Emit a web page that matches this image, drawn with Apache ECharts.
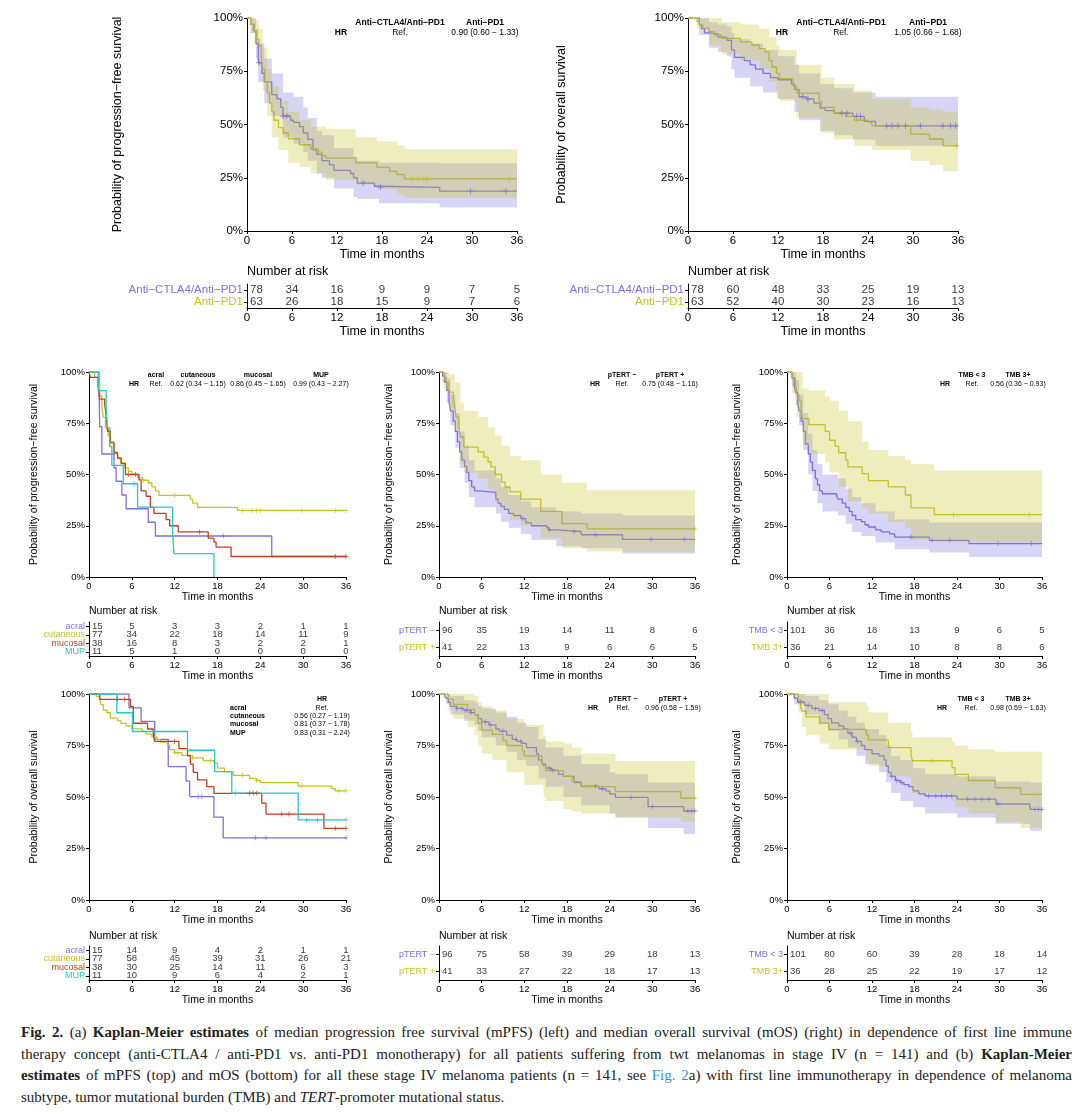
<!DOCTYPE html>
<html><head><meta charset="utf-8">
<script src="https://cdn.jsdelivr.net/npm/echarts@6/dist/echarts.min.js"></script>
<style>
html,body{margin:0;padding:0;background:#fff;width:1080px;height:1112px;overflow:hidden}
#chart{position:absolute;left:0;top:0;width:1080px;height:1015px}
#cap{position:absolute;left:21px;top:1022px;width:1051px;font-family:'Liberation Serif','Times New Roman',serif;font-size:15px;line-height:21.7px;color:#222}
#cap div{text-align:justify;text-align-last:justify;white-space:nowrap}
#cap div.last{text-align-last:left}
</style></head><body>
<div id="chart"></div>
<div id="cap">
<div><b>Fig. 2.</b> (a) <b>Kaplan-Meier estimates</b> of median progression free survival (mPFS) (left) and median overall survival (mOS) (right) in dependence of first line immune</div>
<div>therapy concept (anti-CTLA4 / anti-PD1 vs. anti-PD1 monotherapy) for all patients suffering from twt melanomas in stage IV (n = 141) and (b) <b>Kaplan-Meier</b></div>
<div><b>estimates</b> of mPFS (top) and mOS (bottom) for all these stage IV melanoma patients (n = 141, see <span style="color:#3d8fd0">Fig. 2</span>a) with first line immunotherapy in dependence of melanoma</div>
<div class="last">subtype, tumor mutational burden (TMB) and <i>TERT</i>-promoter mutational status.</div>
</div>
<script>
// ---------------- DATA ----------------
const months = [0, 6, 12, 18, 24, 30, 36];

// (a) PFS by therapy
const pfsCombo = [[0,100],[0.5,97],[0.9,94],[1.2,88],[1.5,79],[2.0,74],[2.3,70],[3.3,64],[4.0,62],[4.5,58],[4.8,54],[5.8,52],[6.2,51],[7.0,49],[7.5,46],[8.1,43],[8.8,38],[9.3,36],[10.0,33],[11.0,31],[11.6,28.5],[13.8,27],[14.2,25],[14.7,22.5],[17.0,21],[17.6,20.5],[25.7,18.7],[36,18.7]];
const pfsComboCens = [1.6,4.8,5.3,15.5,17.8,29.8,34.5];
const pfsComboBand = [[0,100,100],[0.5,93,100],[1.2,81,95],[1.5,70,88],[2.3,60,81],[3.3,54,74],[4.8,44,65],[6.2,41,63],[7.5,37,58],[8.1,33,53],[9.3,27,47],[10,25,45],[11.6,20,39],[14.2,16,35],[14.7,15,33],[17.6,13,32],[25.7,11,31.8],[36,11,31.8]];
const pfsPd1 = [[0,100],[0.5,97],[1.0,94],[1.3,90],[1.6,87],[1.9,82],[2.1,76],[2.4,70],[2.7,65],[3.0,60],[3.3,56],[3.6,52],[4.2,48.5],[4.8,46],[5.5,43.3],[7.0,40.5],[8.5,38.5],[9.5,37],[10.0,35.5],[10.5,34.2],[14.5,32],[17.3,30],[19.0,28],[20.0,26.5],[21.0,24.5],[36,24.5]];
const pfsPd1Cens = [22,22.8,23.5,24,35];
const pfsPd1Band = [[0,100,100],[0.5,93,100],[1.0,88,99],[1.6,79,95],[2.1,66,86],[2.7,54,76],[3.3,44,68],[4.2,38,61],[5.5,32,56],[7.0,30,52],[8.5,27,49],[10.5,24,48],[14.5,22,44],[17.3,20,42],[20.0,17,40],[21.0,15.5,38.4],[36,15.5,38.4]];
const riskPfsTherapy = { combo:[78,34,16,9,9,7,5], pd1:[63,26,18,15,9,7,6] };

// (a) OS by therapy
const osCombo = [[0,100],[1.5,97],[1.8,95],[2.2,93],[2.8,92.5],[4.0,91],[5.2,89.5],[5.8,85],[6.2,81.5],[7.5,80],[8.3,78],[9.0,76],[10.0,74],[11.0,72],[12.0,71],[13.8,69],[14.2,66.5],[14.8,63],[15.8,62],[16.8,60],[17.6,57.7],[18.3,56.5],[19.5,55.3],[22.0,53.8],[23.5,51.5],[25.0,49.4],[36,49.4]];
const osComboCens = [15.3,16,20.5,21.2,22.5,23,26.5,27.2,28,29,31,34,35,35.7];
const osComboBand = [[0,100,100],[1.5,92,100],[2.8,86,98],[4.0,84,97],[5.2,82,96],[5.8,76,93],[6.2,72,90],[8.3,68,88],[10.0,65,85],[12.0,62,82],[14.2,56,78],[14.8,52,74],[17.6,47,69],[19.5,45,67],[22.0,43,65],[25.0,40,63],[36,38,63]];
const osPd1 = [[0,100],[1.2,98.4],[1.5,96.8],[2.0,95.2],[2.8,93.6],[3.5,92],[4.5,90.4],[7.0,88.8],[8.5,87.2],[9.5,85.6],[10.3,84],[10.8,80],[11.2,77],[11.8,74],[12.2,71.5],[14.0,68],[14.5,64.7],[17.5,61],[17.8,58],[19.5,55.6],[21.0,53.8],[22.2,52],[24.0,51],[24.5,49.4],[29.7,45.5],[32.2,43.2],[34.0,40],[36,40]];
const osPd1Cens = [22.5,35.8];
const osPd1Band = [[0,100,100],[1.2,95,100],[2.8,87,100],[4.5,83,98],[7.0,80,97],[9.5,76,95],[10.8,70,91],[11.8,63,87],[12.2,61,85],[14.5,53,78],[17.8,46,72],[19.5,43,69],[22.2,40,66],[24.5,38,62],[29.7,33,58],[32.2,31,57],[34.0,28,56],[36,28,56]];
const riskOsTherapy = { combo:[78,60,48,33,25,19,13], pd1:[63,52,40,30,23,16,13] };

// (b) PFS by subtype
const pfsAcral = [[0,100],[1.4,93.3],[1.5,73.3],[1.8,60],[3.5,53.3],[3.8,46.7],[4.6,40],[5.2,33.3],[8.3,26.7],[9.3,20],[25.6,10],[36,10]];
const pfsAcralCens = [18.8];
const pfsCut = [[0,100],[0.8,97.4],[1.2,93.5],[1.5,88.3],[1.8,83.1],[2.0,77.9],[2.3,72.7],[2.7,68.8],[3.0,64.9],[3.5,61],[4.0,58.4],[4.5,55.8],[5.0,53.2],[5.5,51.5],[6.0,50.2],[6.8,48.5],[7.5,47.2],[8.3,45.9],[8.8,44],[9.3,42],[9.8,39.8],[14.2,38],[14.5,36],[15.2,34],[20.8,32.5],[36,32.5]];
const pfsCutCens = [7.6,8.5,12,21.5,22.8,23.5,24,29.8,34.5,36];
const pfsMuc = [[0,100],[0.2,97.4],[1.3,92.1],[1.5,86.8],[2.2,84.2],[2.4,78.9],[2.6,71.1],[3.0,65.8],[3.5,60.5],[4.0,57.9],[4.5,55.3],[5.1,50],[7.0,47.4],[7.3,42],[8.0,39.4],[8.6,34],[9.1,31],[10.8,28],[11.3,25],[12.5,22],[16.7,19],[17.5,17],[17.8,14.6],[19.9,10],[36,10]];
const pfsMucCens = [5.5,6.5,15.5,34.5,36];
const pfsMup = [[0,100],[1.3,90.9],[2.4,81.8],[2.6,72.7],[2.9,63.6],[3.2,54.5],[4.8,45.5],[6.8,34.1],[11.7,22.7],[11.9,11.4],[17.5,0]];
const pfsMupCens = [6.3];
const riskPfsSub = { acral:[15,5,3,3,2,1,1], cutaneous:[77,34,22,18,14,11,9], mucosal:[38,16,8,3,2,2,1], MUP:[11,5,1,0,0,0,0] };

// (b) PFS by pTERT
const pfsTneg = [[0,100],[0.5,98],[0.8,95],[1.1,91],[1.4,86],[1.6,81],[2.0,76],[2.3,71],[2.6,66],[2.9,61],[3.2,57],[3.6,54],[3.9,51],[4.2,47],[4.6,44],[5.0,42],[5.6,41.3],[8.0,38],[8.3,36],[8.7,34.5],[9.2,33],[9.8,31],[10.5,30],[11.5,28.5],[12.2,26.5],[13.0,25],[15.2,24],[15.5,23],[16.5,22.2],[20.0,20.6],[25.8,18.4],[36,18.4]];
const pfsTnegCens = [11.8,15.5,19,22,29.8,34.5];
const pfsTnegBand = [[0,100,100],[0.5,95,100],[1.1,85,97],[1.6,74,89],[2.3,63,80],[2.9,53,71],[3.6,46,64],[4.2,39,57],[5.0,34,52],[8.0,31,48],[8.7,27,44],[9.8,24,40],[11.5,21,37],[13.0,18,34],[16.5,15,32],[20.0,14,31],[25.8,11.5,30],[36,11.5,30]];
const pfsTpos = [[0,100],[0.7,97.6],[1.0,95.1],[1.4,90.2],[2.0,87.8],[2.2,82.9],[2.4,78],[2.8,73.2],[3.0,68.3],[3.5,63.4],[5.5,61],[6.3,58.5],[6.9,56.1],[7.3,53.7],[7.9,50],[8.8,46.3],[9.3,43.9],[10.0,41.5],[11.5,38],[14.3,32],[17.3,26],[20.8,23.5],[36,23.5]];
const pfsTposCens = [23,36];
const pfsTposBand = [[0,100,100],[0.7,92,100],[1.4,82,99],[2.2,72,95],[3.0,55,85],[3.5,51,81],[5.5,48,78],[6.9,43,73],[7.9,36,69],[8.8,33,64],[10.0,28,59],[11.5,25,57],[14.3,19,50],[17.3,14,46],[20.8,12.5,42.3],[36,12.5,42.3]];
const riskPfsTert = { neg:[96,35,19,14,11,8,6], pos:[41,22,13,9,6,6,5] };

// (b) PFS by TMB
const pfsLow = [[0,100],[0.7,97],[1.0,94],[1.2,90],[1.5,85],[1.7,81],[2.0,76],[2.3,71],[2.6,65],[3.0,60],[3.3,56],[3.6,52],[4.0,48],[4.3,45],[4.6,42],[5.0,40.6],[7.0,39.5],[7.2,38],[7.8,36],[8.3,34],[8.8,32],[9.2,30],[9.7,28],[10.5,27],[11.0,25.5],[11.5,24.4],[12.5,23],[13.3,22],[14.5,21],[15.2,19.5],[20.1,17.9],[25.7,16.3],[36,16.3]];
const pfsLowCens = [17.5,20.5,23,29.8,34.5];
const pfsLowBand = [[0,100,100],[0.7,93,100],[1.2,84,96],[1.7,74,89],[2.3,62,80],[3.0,50,70],[3.6,42,62],[4.3,36,55],[5.0,32,50],[7.2,30,48],[8.3,26,43],[9.2,22,39],[10.5,20,36],[12.5,17,32],[15.2,13.5,28],[20.1,12,26.6],[25.7,9.8,26.6],[36,9.8,26.6]];
const pfsHigh = [[0,100],[0.7,97.2],[1.2,94.4],[1.4,88.9],[1.7,86.1],[2.0,80.6],[2.2,77.3],[3.1,74.3],[5.4,71],[6.0,66.7],[6.8,63.7],[7.3,60.6],[8.3,57],[8.6,53.7],[10.6,50.4],[11.5,47],[14.3,44],[16.7,40],[17.5,33.7],[20.8,30.4],[36,30.4]];
const pfsHighCens = [23.5,34.2];
const pfsHighBand = [[0,100,100],[0.7,90,100],[1.4,78,100],[2.2,64,92],[3.1,60,91],[5.4,56,88],[6.0,51,86],[7.3,44,81],[8.6,37,76],[10.6,34,66],[11.5,31,62],[14.3,27,59],[16.7,24,57],[17.5,18,55],[20.8,17,52],[36,17,52]];
const riskPfsTmb = { low:[101,36,18,13,9,6,5], high:[36,21,14,10,8,8,6] };

// (b) OS by subtype
const osAcral = [[0,100],[5.6,93.3],[7.3,86.7],[9.2,78],[11.1,64.7],[13.6,57.7],[14.1,50.2],[17.5,40.2],[18.8,30.2],[36,30.2]];
const osAcralCens = [15.3,15.8,23.3,24.8,36];
const osCut = [[0,100],[1.0,98.7],[1.5,97.4],[1.7,94.8],[2.0,92.2],[2.5,90.9],[3.0,88.3],[4.0,87],[4.5,85.7],[5.2,84.4],[6.0,83.1],[7.5,81.8],[8.0,80.5],[8.8,79.2],[9.5,77.9],[10.0,76.6],[11.0,75.3],[11.3,73],[12.0,71.5],[13.0,70.2],[14.5,69],[16.0,67.7],[17.5,66.5],[18.0,64],[19.0,62.3],[20.2,60.5],[22.5,59],[23.5,58],[24.0,57],[29.3,55.3],[34.0,54],[34.5,53],[36,53]];
const osCutCens = [12.0,12.5,14.5,17.0,21.5,23.5,29.8,35.0,36];
const osMuc = [[0,100],[1.5,97.4],[5.8,94],[6.2,85.8],[8.2,83],[9.0,80],[9.2,77],[12.6,73.5],[13.8,70],[14.2,66],[14.6,62],[15.2,58.3],[16.5,55],[17.5,51.8],[24.2,47],[24.8,41.7],[32.9,34.8],[36,34.8]];
const osMucCens = [4.0,5.0,12.0,22.5,23.0,23.5,27.0,28.0,34.5,36];
const osMup = [[0,100],[3.9,90.9],[6.1,81.8],[13.8,72.7],[17.6,62.3],[20.0,51.9],[29.3,38.9],[36,38.9]];
const osMupCens = [20.5,30.5,32,36];
const riskOsSub = { acral:[15,14,9,4,2,1,1], cutaneous:[77,58,45,39,31,26,21], mucosal:[38,30,25,14,11,6,3], MUP:[11,10,9,6,4,2,1] };

// (b) OS by pTERT
const osTneg = [[0,100],[0.8,99],[1.0,98],[1.3,96],[1.6,94],[2.5,93],[3.5,92],[4.5,91],[5.0,90],[5.5,88],[6.0,86.5],[7.0,85],[8.0,83],[8.5,82],[9.5,80],[10.3,78],[11.0,77],[11.7,76],[12.3,74],[13.7,71],[14.0,68],[14.5,66],[15.0,64],[15.8,63],[16.8,61],[17.5,60],[19.0,57],[20.0,55.3],[22.5,54],[23.5,53],[24.0,51.5],[24.8,49.8],[29.4,45.3],[34.4,43.2],[36,43.2]];
const osTnegCens = [2.5,3.2,3.8,4.5,6.5,7.2,9,10.8,11.5,15.5,16,22,23,27,30,35,35.5,36];
const osTnegBand = [[0,100,100],[1.0,95,100],[1.6,90,99],[3.5,87,97],[5.0,85,96],[5.5,82,94],[6.0,79,93],[8.0,75,91],[9.5,72,89],[11.0,68,86],[12.3,65,84],[14.0,59,78],[15.0,55,74],[17.5,50,70],[20.0,46,66],[24.0,42,62],[24.8,40,61],[29.4,35,57],[34.4,32,57],[36,32,57]];
const osTpos = [[0,100],[1.3,97.5],[2.0,95],[4.0,92.5],[5.0,90],[5.5,85.8],[6.0,82.5],[7.5,80.4],[9.0,77.5],[9.5,75],[11.7,72.5],[12.0,70],[14.5,67.5],[14.7,65],[15.0,62.8],[17.5,60],[18.7,57.5],[20.0,55],[24.8,52.6],[34.0,49.4],[36,49.4]];
const osTposCens = [21.5,36];
const osTposBand = [[0,100,100],[1.3,92,100],[2.0,88,100],[4.0,84,100],[5.0,80,99],[5.5,75,96],[6.0,71,94],[7.5,68,92],[9.5,62,88],[12.0,56,85],[14.7,50,80],[15.0,48,77],[17.5,44,76],[18.7,43,74],[20.0,42,71],[24.8,40,67.5],[34.0,38,67.5],[36,38,67.5]];
const riskOsTert = { neg:[96,75,58,39,29,18,13], pos:[41,33,27,22,18,17,13] };

// (b) OS by TMB
const osLow = [[0,100],[1.0,98],[1.5,96],[2.5,94.5],[3.5,93],[4.5,92],[5.3,90],[5.8,88],[6.3,86],[7.3,84.5],[8.0,83],[8.6,81],[9.2,79],[9.8,77],[10.5,75],[11.0,73],[12.0,71],[13.0,70],[13.7,68],[14.0,65],[14.3,62],[14.7,60],[15.3,58],[16.0,57],[16.5,56],[17.2,55],[17.8,53],[18.6,51.5],[19.5,50.5],[24.0,49],[29.5,46.6],[34.3,44],[36,44]];
const osLowCens = [2,3,4,5,9,10,14.8,15.5,16.2,20,21,21.8,22.5,23.2,25.5,26.5,27.5,28.5,29.8,35,35.5,36];
const osLowBand = [[0,100,100],[1.0,95,100],[2.5,90,99],[4.5,86,97],[5.8,82,95],[7.3,78,92],[8.6,74,89],[9.8,70,86],[11.0,66,83],[13.0,62,80],[14.0,57,75],[14.7,52,70],[16.0,48,68],[17.8,45,64],[19.5,42,61],[24.0,40,60],[29.5,37,57.5],[34.3,33.6,57],[36,33.6,57]];
const osHigh = [[0,100],[1.6,97.2],[1.9,94.4],[2.1,91.7],[2.7,88.9],[4.6,85.8],[5.9,82.8],[11.2,80],[11.5,77.7],[14.3,74],[17.5,70.5],[17.7,67.6],[23.3,64.3],[23.7,61],[25.6,58],[29.4,54.5],[33.0,51.3],[36,51.3]];
const osHighCens = [4.8,20.5,31.5,34.8];
const osHighBand = [[0,100,100],[1.6,91,100],[2.1,84,100],[2.7,80,100],[4.6,76,100],[5.9,73,96],[11.2,68,94],[11.5,65,91],[14.3,60,86],[17.5,55,82],[17.7,52,79],[23.3,48,77],[23.7,45,75],[25.6,42,73],[29.4,38,72],[33.0,35,72],[36,35,72]];
const riskOsTmb = { low:[101,80,60,39,28,18,14], high:[36,28,25,22,19,17,12] };

// ---------------- RENDERING ----------------
const PURPLE = '#7e70e0', YELLOW = '#c4c424', RED = '#c0401e', CYAN = '#25c6cc';
const FONT = "'Liberation Sans', Arial, Helvetica, sans-serif";
const PLUS = 'path://M-0.17,-1L0.17,-1L0.17,-0.17L1,-0.17L1,0.17L0.17,0.17L0.17,1L-0.17,1L-0.17,0.17L-1,0.17L-1,-0.17L-0.17,-0.17Z';

const option = { animation:false, backgroundColor:'#fff', textStyle:{fontFamily:FONT}, grid:[], xAxis:[], yAxis:[], series:[], graphic:[] };

function survAt(curve, t){ let v = curve[0][1]; for (const p of curve){ if (p[0] <= t) v = p[1]; else break; } return v; }
function bandPolygon(band){
  const up = [], lo = [];
  for (let i = 0; i < band.length - 1; i++){
    const t = band[i][0], t2 = band[i+1][0];
    up.push([t, band[i][2]], [t2, band[i][2]]);
    lo.push([t, band[i][1]], [t2, band[i][1]]);
  }
  return up.concat(lo.reverse());
}
function axisBase(fs){
  return { axisLine:{show:true, lineStyle:{color:'#000', width:1}}, axisTick:{show:true, length:3, lineStyle:{color:'#000'}},
           axisLabel:{color:'#000', fontSize:fs, fontFamily:FONT, margin:4}, splitLine:{show:false} };
}
function addText(x, y, text, opt){
  opt = opt || {};
  option.graphic.push({ type:'text', x:x, y:y, silent:true, z:100,
    style:{ text:text, fontSize:opt.size || 10, fontWeight:opt.bold ? 'bold' : 'normal', fontFamily:FONT,
            fill:opt.color || '#000', textAlign:opt.align || 'center', align:opt.align || 'center',
            textVerticalAlign:'middle', verticalAlign:'middle' } });
}

function addKM(p){
  const gi = option.grid.length;
  option.grid.push({ left:p.left, top:p.top, width:p.width, height:p.height });
  const xa = axisBase(p.tickFont);
  option.xAxis.push(Object.assign(xa, { gridIndex:gi, type:'value', min:0, max:36, interval:6,
    name:'Time in months', nameLocation:'middle', nameGap:p.xGap, nameTextStyle:{color:'#000', fontSize:p.nameFont, fontFamily:FONT} }));
  const ya = axisBase(p.tickFont);
  ya.axisLabel.formatter = '{value}%';
  option.yAxis.push(Object.assign(ya, { gridIndex:gi, type:'value', min:0, max:100, interval:25,
    name:p.yName, nameLocation:'middle', nameGap:p.yGap, nameTextStyle:{color:'#000', fontSize:p.nameFont, fontFamily:FONT} }));
  p.curves.forEach(c => {
    option.series.push({ type:'line', xAxisIndex:gi, yAxisIndex:gi, data:c.data, step:'end', symbol:'none', showSymbol:false,
      lineStyle:{color:c.color, width:1.3}, z:2, silent:true });
    if (c.cens && c.cens.length){
      option.series.push({ type:'scatter', xAxisIndex:gi, yAxisIndex:gi, data:c.cens.map(t => [t, survAt(c.data, t)]),
        symbol:PLUS, symbolSize:p.cs, itemStyle:{color:c.color}, z:4, silent:true });
    }
  });
  p.curves.forEach(c => {
    if (!c.band) return;
    const poly = bandPolygon(c.band);
    option.series.push({ type:'custom', xAxisIndex:gi, yAxisIndex:gi, data:c.band, encode:{x:0, y:[1,2]}, silent:true, z:3,
      renderItem:(params, api) => {
        if (params.dataIndex !== 0) return null;
        return { type:'polygon', shape:{ points: poly.map(q => api.coord(q)) }, style:{ fill:c.color, opacity:0.3 } };
      } });
  });
  (p.notes || []).forEach(n => addText(n[0], n[1], n[2], { bold:n[3], size:p.noteFont, align:n[4] }));
}

function addRisk(p){
  const gi = option.grid.length;
  option.grid.push({ left:p.left, top:p.top, width:p.width, height:p.height });
  const xa = axisBase(p.tickFont);
  option.xAxis.push(Object.assign(xa, { gridIndex:gi, type:'value', min:0, max:36, interval:6,
    name:'Time in months', nameLocation:'middle', nameGap:p.xGap, nameTextStyle:{color:'#000', fontSize:p.nameFont, fontFamily:FONT} }));
  const ya = axisBase(p.labelFont);
  ya.axisTick.alignWithLabel = true;
  ya.axisTick.interval = 0;
  ya.axisLabel.interval = 0;
  ya.axisLabel.hideOverlap = false;
  ya.axisLabel.color = (v) => p.colors[p.groups.indexOf(v)];
  option.yAxis.push(Object.assign(ya, { gridIndex:gi, type:'category', data:p.groups, inverse:true }));
  p.groups.forEach((g, k) => {
    option.series.push({ type:'scatter', xAxisIndex:gi, yAxisIndex:gi, symbol:'circle', symbolSize:1,
      itemStyle:{color:'rgba(0,0,0,0)'}, silent:true, z:5,
      data: months.map((t, i) => {
        const d = { value:[t, g], n:p.counts[k][i] };
        if (i === 0) d.label = { align:'left', offset:[3, 0] };
        return d;
      }),
      label:{ show:true, position:'inside', formatter:(d) => String(d.data.n), color:'#000', fontSize:p.font, fontFamily:FONT } });
  });
  addText(p.left, p.titleY, 'Number at risk', { size:p.titleFont, align:'left' });
}

// -------- panel (a) --------
const topCfg = { top:18, height:213, width:270, tickFont:11.5, nameFont:12.5, xGap:15, cs:6, noteFont:8.5 };
addKM(Object.assign({}, topCfg, { left:247, yGap:123, yName:'Probability of progression\u2212free survival',
  curves:[ {data:pfsCombo, cens:pfsComboCens, band:pfsComboBand, color:PURPLE}, {data:pfsPd1, cens:pfsPd1Cens, band:pfsPd1Band, color:YELLOW} ],
  notes:[[400,23,'Anti\u2212CTLA4/Anti\u2212PD1',true],[485,23,'Anti\u2212PD1',true],[341,33,'HR',true],[400,33,'Ref.',false],[485,33,'0.90 (0.60 \u2212 1.33)',false]] }));
addKM(Object.assign({}, topCfg, { left:688, yGap:120, yName:'Probability of overall survival',
  curves:[ {data:osCombo, cens:osComboCens, band:osComboBand, color:PURPLE}, {data:osPd1, cens:osPd1Cens, band:osPd1Band, color:YELLOW} ],
  notes:[[841,23,'Anti\u2212CTLA4/Anti\u2212PD1',true],[928,23,'Anti\u2212PD1',true],[782,33,'HR',true],[841,33,'Ref.',false],[928,33,'1.05 (0.66 \u2212 1.68)',false]] }));
const topRisk = { top:284, height:24, width:270, tickFont:11.5, nameFont:12.5, labelFont:11.5, font:11.5, xGap:15, titleY:272, titleFont:12.5,
  groups:['Anti\u2212CTLA4/Anti\u2212PD1','Anti\u2212PD1'], colors:[PURPLE, YELLOW] };
addRisk(Object.assign({}, topRisk, { left:247, counts:[riskPfsTherapy.combo, riskPfsTherapy.pd1] }));
addRisk(Object.assign({}, topRisk, { left:688, counts:[riskOsTherapy.combo, riskOsTherapy.pd1] }));

// -------- panel (b) --------
const colL = 89, colC = 439, colR = 787, wL = 257, wC = 256, wR = 255;
const midCfg = { height:205, tickFont:9.5, nameFont:10.5, xGap:11, cs:5, noteFont:7 };
const PFSN = 'Probability of progression\u2212free survival', OSN = 'Probability of overall survival';
const subGroups = ['acral','cutaneous','mucosal','MUP'], subColors = [PURPLE, YELLOW, RED, CYAN];

addKM(Object.assign({}, midCfg, { top:372, left:colL, width:wL, yGap:49, yName:PFSN,
  curves:[ {data:pfsAcral, cens:pfsAcralCens, color:PURPLE}, {data:pfsCut, cens:pfsCutCens, color:YELLOW},
           {data:pfsMuc, cens:pfsMucCens, color:RED}, {data:pfsMup, cens:pfsMupCens, color:CYAN} ],
  notes:[[156,375,'acral',true],[198,375,'cutaneous',true],[258,375,'mucosal',true],[321,375,'MUP',true],
         [134,384,'HR',true],[156,384,'Ref.',false],[198,384,'0.62 (0.34 \u2212 1.15)',false],[258,384,'0.86 (0.45 \u2212 1.65)',false],[321,384,'0.99 (0.43 \u2212 2.27)',false]] }));
addKM(Object.assign({}, midCfg, { top:372, left:colC, width:wC, yGap:44, yName:PFSN,
  curves:[ {data:pfsTneg, cens:pfsTnegCens, band:pfsTnegBand, color:PURPLE}, {data:pfsTpos, cens:pfsTposCens, band:pfsTposBand, color:YELLOW} ],
  notes:[[622,375,'pTERT \u2212',true],[670,375,'pTERT +',true],[595,384,'HR',true],[622,384,'Ref.',false],[670,384,'0.75 (0.48 \u2212 1.16)',false]] }));
addKM(Object.assign({}, midCfg, { top:372, left:colR, width:wR, yGap:44, yName:PFSN,
  curves:[ {data:pfsLow, cens:pfsLowCens, band:pfsLowBand, color:PURPLE}, {data:pfsHigh, cens:pfsHighCens, band:pfsHighBand, color:YELLOW} ],
  notes:[[972,375,'TMB < 3',true],[1018,375,'TMB 3+',true],[945,384,'HR',true],[972,384,'Ref.',false],[1018,384,'0.56 (0.36 \u2212 0.93)',false]] }));

addKM(Object.assign({}, midCfg, { top:694, height:206, left:colL, width:wL, yGap:49, yName:OSN,
  curves:[ {data:osAcral, cens:osAcralCens, color:PURPLE}, {data:osCut, cens:osCutCens, color:YELLOW},
           {data:osMuc, cens:osMucCens, color:RED}, {data:osMup, cens:osMupCens, color:CYAN} ],
  notes:[[322,699,'HR',true],[230,708,'acral',true,'left'],[322,708,'Ref.',false],[230,716,'cutaneous',true,'left'],[322,716,'0.56 (0.27 \u2212 1.19)',false],
         [230,724,'mucosal',true,'left'],[322,724,'0.81 (0.37 \u2212 1.78)',false],[230,733,'MUP',true,'left'],[322,733,'0.83 (0.31 \u2212 2.24)',false]] }));
addKM(Object.assign({}, midCfg, { top:694, height:206, left:colC, width:wC, yGap:44, yName:OSN,
  curves:[ {data:osTneg, cens:osTnegCens, band:osTnegBand, color:PURPLE}, {data:osTpos, cens:osTposCens, band:osTposBand, color:YELLOW} ],
  notes:[[623,699,'pTERT \u2212',true],[673,699,'pTERT +',true],[593,708,'HR',true],[623,708,'Ref.',false],[673,708,'0.96 (0.58 \u2212 1.59)',false]] }));
addKM(Object.assign({}, midCfg, { top:694, height:206, left:colR, width:wR, yGap:44, yName:OSN,
  curves:[ {data:osLow, cens:osLowCens, band:osLowBand, color:PURPLE}, {data:osHigh, cens:osHighCens, band:osHighBand, color:YELLOW} ],
  notes:[[971,699,'TMB < 3',true],[1018,699,'TMB 3+',true],[942,708,'HR',true],[971,708,'Ref.',false],[1018,708,'0.98 (0.59 \u2212 1.63)',false]] }));

const rCfg = { height:34, tickFont:9.5, nameFont:10.5, labelFont:9, font:9.5, xGap:14, titleFont:10.5 };
addRisk(Object.assign({}, rCfg, { top:622, titleY:611, left:colL, width:wL, groups:subGroups, colors:subColors,
  counts:[riskPfsSub.acral, riskPfsSub.cutaneous, riskPfsSub.mucosal, riskPfsSub.MUP] }));
addRisk(Object.assign({}, rCfg, { top:622, titleY:611, left:colC, width:wC, groups:['pTERT \u2212','pTERT +'], colors:[PURPLE, YELLOW],
  counts:[riskPfsTert.neg, riskPfsTert.pos] }));
addRisk(Object.assign({}, rCfg, { top:622, titleY:611, left:colR, width:wR, groups:['TMB < 3','TMB 3+'], colors:[PURPLE, YELLOW],
  counts:[riskPfsTmb.low, riskPfsTmb.high] }));
addRisk(Object.assign({}, rCfg, { top:946, titleY:936, left:colL, width:wL, groups:subGroups, colors:subColors,
  counts:[riskOsSub.acral, riskOsSub.cutaneous, riskOsSub.mucosal, riskOsSub.MUP] }));
addRisk(Object.assign({}, rCfg, { top:946, titleY:936, left:colC, width:wC, groups:['pTERT \u2212','pTERT +'], colors:[PURPLE, YELLOW],
  counts:[riskOsTert.neg, riskOsTert.pos] }));
addRisk(Object.assign({}, rCfg, { top:946, titleY:936, left:colR, width:wR, groups:['TMB < 3','TMB 3+'], colors:[PURPLE, YELLOW],
  counts:[riskOsTmb.low, riskOsTmb.high] }));

const chart = echarts.init(document.getElementById('chart'), null, { renderer:'canvas' });
chart.setOption(option);
</script>
</body></html>
